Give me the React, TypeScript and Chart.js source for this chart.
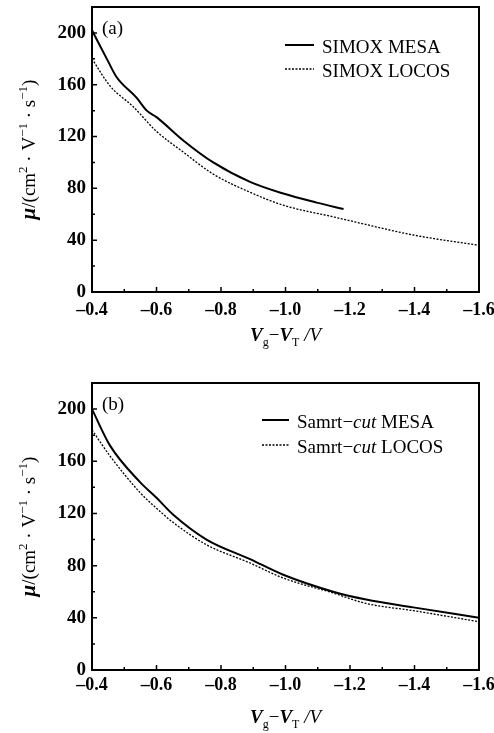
import React, { useEffect, useRef } from "react";
import { Chart, registerables } from "chart.js";
Chart.register(...registerables);

// ---------- data ----------
const xTickValues = [-0.4, -0.6, -0.8, -1.0, -1.2, -1.4, -1.6];
const yTickValues = [0, 40, 80, 120, 160, 200];

const aMesaX = [-0.4, -0.45, -0.476, -0.538, -0.57, -0.6, -0.683, -0.776, -0.89, -0.993, -1.097, -1.18];
const aMesaY = [202, 178, 166, 150, 140, 135, 117, 100, 85, 76, 69, 64];
const aLocosX = [-0.4, -0.456, -0.528, -0.6, -0.683, -0.776, -0.89, -0.993, -1.148, -1.2, -1.396, -1.6];
const aLocosY = [180, 159, 143, 124, 108, 91, 77, 67, 58, 55, 44, 36];

const bMesaX = [-0.4, -0.456, -0.549, -0.6, -0.652, -0.755, -0.89, -0.993, -1.148, -1.25, -1.396, -1.6];
const bMesaY = [200, 172, 144, 132, 119, 100, 85, 73, 60, 54, 48, 40];
const bLocosX = [-0.4, -0.456, -0.549, -0.6, -0.652, -0.755, -0.89, -0.993, -1.148, -1.25, -1.396, -1.6];
const bLocosY = [184, 164, 136, 124, 113, 96, 82, 70.5, 59, 51, 45.5, 37];

const aLegend = ["SIMOX MESA", "SIMOX LOCOS"];
const bLegendPrefix = "Samrt\u2212";
const bLegendItalic = "cut";
const bLegendSuffix = [" MESA", " LOCOS"];

const SERIF = '"Liberation Serif", "Times New Roman", serif';

type Run = { t: string; font: string; dy?: number };

function drawRuns(ctx: CanvasRenderingContext2D, runs: Run[], x: number, y: number, align: "left" | "center") {
  let total = 0;
  for (const r of runs) {
    ctx.font = r.font;
    total += ctx.measureText(r.t).width;
  }
  let cx = align === "center" ? x - total / 2 : x;
  ctx.textAlign = "left";
  ctx.textBaseline = "alphabetic";
  for (const r of runs) {
    ctx.font = r.font;
    ctx.fillText(r.t, cx, y + (r.dy || 0));
    cx += ctx.measureText(r.t).width;
  }
}

function pts(xs: number[], ys: number[]) {
  return xs.map((x, i) => ({ x, y: ys[i] }));
}

type PanelProps = {
  height: number;
  plotTop: number;
  plotBottom: number;
  tag: string;
  series: { x: number[]; y: number[]; dashed: boolean }[];
  legendKind: "a" | "b";
  legendX0: number;
  legendX1: number;
  legendTextX: number;
  legendY: number[];
  xTitleY: number;
  xTickPad: number;
};

function Panel(p: PanelProps) {
  const ref = useRef<HTMLCanvasElement | null>(null);
  useEffect(() => {
    if (!ref.current) return;
    const W = 494;
    const plotLeft = 92;
    const plotRight = 479;
    const deco = {
      id: "deco",
      afterDraw(chart: any) {
        const ctx: CanvasRenderingContext2D = chart.ctx;
        const a = chart.chartArea;
        const xs = chart.scales.x;
        const ys = chart.scales.y;
        ctx.save();
        ctx.strokeStyle = "#000";
        ctx.fillStyle = "#000";
        // frame
        ctx.lineWidth = 2;
        ctx.strokeRect(a.left, a.top, a.right - a.left, a.bottom - a.top);
        // ticks
        ctx.lineWidth = 1.5;
        ctx.beginPath();
        for (let v = -0.4; v >= -1.6001; v -= 0.1) {
          const major = Math.abs(Math.round(v * 10)) % 2 === 0;
          const px = xs.getPixelForValue(v);
          ctx.moveTo(px, a.bottom);
          ctx.lineTo(px, a.bottom - (major ? 5 : 3));
        }
        for (let v = 0; v <= 220; v += 20) {
          const major = v % 40 === 0;
          const py = ys.getPixelForValue(v);
          ctx.moveTo(a.left, py);
          ctx.lineTo(a.left + (major ? 5 : 3), py);
        }
        ctx.stroke();
        // panel tag
        ctx.font = `19px ${SERIF}`;
        ctx.textAlign = "left";
        ctx.textBaseline = "alphabetic";
        ctx.fillText(p.tag, a.left + 10, a.top + 27);
        // legend
        p.legendY.forEach((ly, i) => {
          ctx.beginPath();
          ctx.lineWidth = i === 0 ? 2 : 1.3;
          ctx.setLineDash(i === 0 ? [] : [2, 1.5]);
          ctx.moveTo(p.legendX0, ly);
          ctx.lineTo(p.legendX1, ly);
          ctx.stroke();
          ctx.setLineDash([]);
          const base = ly + 8;
          if (p.legendKind === "a") {
            drawRuns(ctx, [{ t: aLegend[i], font: `19px ${SERIF}` }], p.legendTextX, base, "left");
          } else {
            drawRuns(
              ctx,
              [
                { t: bLegendPrefix, font: `19px ${SERIF}` },
                { t: bLegendItalic, font: `italic 19px ${SERIF}` },
                { t: bLegendSuffix[i], font: `19px ${SERIF}` },
              ],
              p.legendTextX,
              base,
              "left"
            );
          }
        });
        // y title
        ctx.save();
        ctx.translate(35, (a.top + a.bottom) / 2);
        ctx.rotate(-Math.PI / 2);
        const f = `19px ${SERIF}`;
        const s = `13px ${SERIF}`;
        drawRuns(
          ctx,
          [
            { t: "\u03bc", font: `bold italic 21px ${SERIF}` },
            { t: "/(cm", font: f },
            { t: "2", font: s, dy: -8 },
            { t: " \u00b7 V", font: f },
            { t: "\u22121", font: s, dy: -8 },
            { t: " \u00b7 s", font: f },
            { t: "\u22121", font: s, dy: -8 },
            { t: ")", font: f },
          ],
          0,
          0,
          "center"
        );
        ctx.restore();
        // x title
        drawRuns(
          ctx,
          [
            { t: "V", font: `italic bold 19px ${SERIF}` },
            { t: "g", font: `12px ${SERIF}`, dy: 5 },
            { t: "\u2212", font: `19px ${SERIF}` },
            { t: "V", font: `italic bold 19px ${SERIF}` },
            { t: "T", font: `12px ${SERIF}`, dy: 5 },
            { t: " /V", font: `italic 19px ${SERIF}` },
          ],
          (a.left + a.right) / 2,
          p.xTitleY,
          "center"
        );
        ctx.restore();
      },
    };
    const chart = new Chart(ref.current, {
      type: "scatter",
      data: {
        datasets: p.series.map((s) => ({
          data: pts(s.x, s.y),
          showLine: true,
          borderColor: "#000",
          backgroundColor: "#000",
          borderWidth: s.dashed ? 1.3 : 2,
          borderDash: s.dashed ? [2, 1.5] : [],
          pointRadius: 0,
          cubicInterpolationMode: "monotone" as const,
        })),
      },
      options: {
        animation: false,
        responsive: false,
        maintainAspectRatio: false,
        layout: { padding: { left: 0, right: W - plotRight, top: p.plotTop, bottom: 0 } },
        plugins: { legend: { display: false }, tooltip: { enabled: false } },
        scales: {
          x: {
            type: "linear",
            reverse: true,
            min: -1.6,
            max: -0.4,
            afterBuildTicks: (sc: any) => {
              sc.ticks = xTickValues.map((v) => ({ value: v }));
            },
            afterFit: (sc: any) => {
              sc.height = p.height - p.plotBottom;
              sc.paddingLeft = 0;
              sc.paddingRight = 0;
            },
            grid: { display: true, drawOnChartArea: false, drawTicks: false, color: "rgba(0,0,0,0)" },
            border: { display: false },
            ticks: {
              autoSkip: false,
              maxRotation: 0,
              color: "#000",
              padding: p.xTickPad,
              font: { family: SERIF, size: 18, weight: "bold" },
              callback: (v: any) => Number(v).toFixed(1).replace("-", "\u2013"),
            },
          },
          y: {
            type: "linear",
            min: 0,
            max: 220,
            afterBuildTicks: (sc: any) => {
              sc.ticks = yTickValues.map((v) => ({ value: v }));
            },
            afterFit: (sc: any) => {
              sc.width = plotLeft;
              sc.paddingTop = 0;
              sc.paddingBottom = 0;
            },
            grid: { display: true, drawOnChartArea: false, drawTicks: false, color: "rgba(0,0,0,0)" },
            border: { display: false },
            ticks: {
              autoSkip: false,
              color: "#000",
              padding: 6,
              font: { family: SERIF, size: 19, weight: "bold" },
            },
          },
        },
      },
      plugins: [deco],
    } as any);
    return () => chart.destroy();
  }, []);
  return <canvas ref={ref} width={494} height={p.height} style={{ display: "block", width: 494, height: p.height }} />;
}

export default function App() {
  return (
    <div style={{ position: "absolute", left: 0, top: 0, width: 494, height: 733, background: "#fff" }}>
      <Panel
        height={365}
        plotTop={7}
        plotBottom={292}
        tag="(a)"
        series={[
          { x: aMesaX, y: aMesaY, dashed: false },
          { x: aLocosX, y: aLocosY, dashed: true },
        ]}
        legendKind="a"
        legendX0={285}
        legendX1={314}
        legendTextX={322}
        legendY={[45, 69]}
        xTitleY={341}
        xTickPad={8}
      />
      <Panel
        height={368}
        plotTop={18}
        plotBottom={305}
        tag="(b)"
        series={[
          { x: bMesaX, y: bMesaY, dashed: false },
          { x: bLocosX, y: bLocosY, dashed: true },
        ]}
        legendKind="b"
        legendX0={262}
        legendX1={289}
        legendTextX={297}
        legendY={[55, 80]}
        xTitleY={358}
        xTickPad={5}
      />
    </div>
  );
}
